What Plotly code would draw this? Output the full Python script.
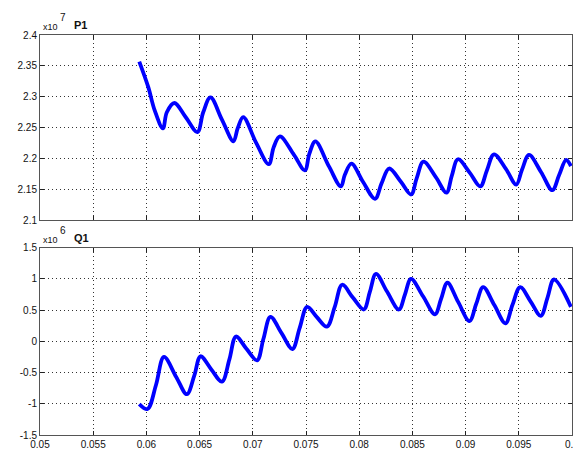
import plotly.graph_objects as go
from plotly.subplots import make_subplots

# ---- data ----
t_p1 = [0.05933, 0.06017, 0.06078, 0.06155, 0.06192, 0.06263, 0.0637, 0.06479,
        0.06534, 0.06602, 0.0671, 0.06818, 0.06858, 0.0691, 0.07033, 0.0715,
        0.07197, 0.07255, 0.07387, 0.07489, 0.07532, 0.07588, 0.07717, 0.07828,
        0.07865, 0.07927, 0.08034, 0.08149, 0.0821, 0.08281, 0.0839, 0.08487,
        0.0854, 0.08604, 0.0872, 0.0882, 0.0887, 0.08928, 0.0904, 0.09138,
        0.0920, 0.09267, 0.0938, 0.09476, 0.0953, 0.09596, 0.0971, 0.09815,
        0.0988, 0.09945, 0.0999]
p1 = [2.357, 2.316, 2.278, 2.249, 2.275, 2.290, 2.267, 2.243,
      2.275, 2.299, 2.263, 2.228, 2.249, 2.267, 2.225, 2.191,
      2.219, 2.236, 2.206, 2.181, 2.208, 2.228, 2.187, 2.155,
      2.174, 2.192, 2.163, 2.135, 2.160, 2.184, 2.163, 2.142,
      2.168, 2.195, 2.170, 2.145, 2.172, 2.199, 2.177, 2.155,
      2.181, 2.207, 2.183, 2.158, 2.182, 2.206, 2.178, 2.149,
      2.174, 2.198, 2.188]

t_q1 = [0.05933, 0.0601, 0.0609, 0.06165, 0.0628, 0.0638, 0.0645, 0.06509,
        0.0661, 0.0671, 0.0678, 0.06842, 0.0694, 0.0704, 0.0710, 0.07166,
        0.0727, 0.07372, 0.0744, 0.07511, 0.0760, 0.07696, 0.0777, 0.0784,
        0.0794, 0.08043, 0.0810, 0.08158, 0.0826, 0.08373, 0.0843, 0.08487,
        0.0860, 0.08712, 0.0877, 0.08829, 0.0893, 0.09036, 0.0910, 0.09165,
        0.0927, 0.09374, 0.0944, 0.09513, 0.0961, 0.09707, 0.0977, 0.09831,
        0.0999]
q1 = [-1.005, -1.084, -0.70, -0.25, -0.57, -0.847, -0.55, -0.24,
      -0.45, -0.646, -0.29, 0.076, -0.12, -0.304, 0.04, 0.392,
      0.13, -0.124, 0.21, 0.551, 0.39, 0.234, 0.55, 0.905,
      0.70, 0.509, 0.79, 1.079, 0.80, 0.509, 0.75, 1.0,
      0.72, 0.43, 0.68, 0.937, 0.63, 0.324, 0.60, 0.867,
      0.58, 0.288, 0.58, 0.867, 0.64, 0.408, 0.70, 0.989,
      0.551]

x_ticks = [0.05, 0.055, 0.06, 0.065, 0.07, 0.075, 0.08, 0.085, 0.09, 0.095, 0.1]
x_labels = ["0.05", "0.055", "0.06", "0.065", "0.07", "0.075", "0.08", "0.085", "0.09", "0.095", "0.1"]
p_ticks = [2.1, 2.15, 2.2, 2.25, 2.3, 2.35, 2.4]
p_labels = ["2.1", "2.15", "2.2", "2.25", "2.3", "2.35", "2.4"]
q_ticks = [-1.5, -1.0, -0.5, 0.0, 0.5, 1.0, 1.5]
q_labels = ["-1.5", "-1", "-0.5", "0", "0.5", "1", "1.5"]

W, H = 581, 452
ML, MR, MT, MB = 30, 10, 27, 21
PW, PH = W - ML - MR, H - MT - MB

fig = make_subplots(rows=2, cols=1)
fig.add_trace(go.Scatter(x=t_p1, y=p1, mode="lines",
                         line=dict(color="#0000ff", width=3.8, shape="spline", smoothing=1.0),
                         showlegend=False), row=1, col=1)
fig.add_trace(go.Scatter(x=t_q1, y=q1, mode="lines",
                         line=dict(color="#0000ff", width=3.8, shape="spline", smoothing=1.0),
                         showlegend=False), row=2, col=1)

axis_common = dict(showline=True, linecolor="#555555", linewidth=1, mirror="ticks",
                   ticks="inside", ticklen=4, tickcolor="#222222",
                   showgrid=True, gridcolor="#333333", griddash="1px,3px", gridwidth=1,
                   zeroline=False, tickfont=dict(family="Liberation Sans, Arial", size=10, color="#111111"))

fig.update_xaxes(range=[0.05, 0.1], tickvals=x_ticks, ticktext=x_labels, **axis_common)
fig.update_xaxes(showticklabels=False, row=1, col=1)
fig.update_yaxes(range=[2.1, 2.4], tickvals=p_ticks, ticktext=p_labels, row=1, col=1, **axis_common)
fig.update_yaxes(range=[-1.5, 1.5], tickvals=q_ticks, ticktext=q_labels, row=2, col=1, **axis_common)

top_dom = [1 - 187.3 / PH, 1.0]
bot_dom = [0.0, 1 - 214.7 / PH]
fig.update_layout(yaxis=dict(domain=top_dom), yaxis2=dict(domain=bot_dom),
                  xaxis=dict(domain=[0, 1]), xaxis2=dict(domain=[0, 1]))

def px(x):
    return (x - ML) / PW

def py(y):
    return (H - MB - y) / PH

anns = [
    dict(text="x10", x=px(31), y=py(19), xanchor="left", yanchor="middle", font=dict(size=9)),
    dict(text="7", x=px(48), y=py(9), xanchor="left", yanchor="middle", font=dict(size=10)),
    dict(text="<b>P1</b>", x=px(63), y=py(17), xanchor="left", yanchor="middle", font=dict(size=11)),
    dict(text="x10", x=px(31), y=py(234), xanchor="left", yanchor="middle", font=dict(size=9)),
    dict(text="6", x=px(48), y=py(224), xanchor="left", yanchor="middle", font=dict(size=10)),
    dict(text="<b>Q1</b>", x=px(63), y=py(232), xanchor="left", yanchor="middle", font=dict(size=11)),
    dict(text="<b>t</b>", x=px(576), y=py(451), xanchor="center", yanchor="bottom",
         font=dict(size=8), borderpad=0),
]
for a in anns:
    a.update(xref="paper", yref="paper", showarrow=False)
    a["font"].update(family="Liberation Sans, Arial", color="#111111")

fig.update_layout(width=W, height=H, margin=dict(l=ML, r=MR, t=MT, b=MB),
                  paper_bgcolor="white", plot_bgcolor="white", annotations=anns,
                  font=dict(family="Liberation Sans, Arial", size=10))

fig.write_html("out.html")
